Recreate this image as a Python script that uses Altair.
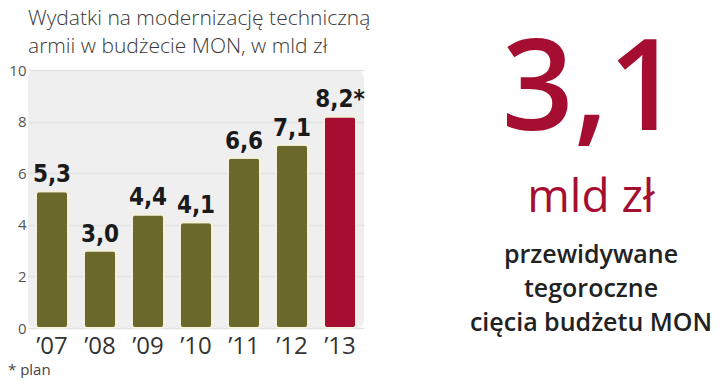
import altair as alt
import pandas as pd

years = ["’07", "’08", "’09", "’10", "’11", "’12", "’13"]
values = [5.3, 3.0, 4.4, 4.1, 6.6, 7.1, 8.2]
marks = ["", "", "", "", "", "", "*"]
planned = [False, False, False, False, False, False, True]

title_lines = ["Wydatki na modernizację techniczną", "armii w budżecie MON, w mld zł"]
footnote = "* plan"
big_value = "3,1"
big_unit = "mld zł"
caption_lines = ["przewidywane", "tegoroczne", "cięcia budżetu MON"]

df = pd.DataFrame({
    "year": years,
    "value": values,
    "label": [f"{v:.1f}".replace(".", ",") + m for v, m in zip(values, marks)],
    "planned": planned,
})

W, H = 336, 258

x = alt.X("year:N", sort=years, title=None,
          scale=alt.Scale(paddingInner=0, paddingOuter=0),
          axis=alt.Axis(labelAngle=0, labelFontSize=24, labelColor="#333333",
                        labelFont="Open Sans", labelPadding=6, ticks=False,
                        domain=False, grid=False))
y = alt.Y("value:Q", title=None,
          scale=alt.Scale(domain=[0, 10], nice=False),
          axis=alt.Axis(values=[0, 2, 4, 6, 8, 10], labelFontSize=15,
                        labelColor="#555555", labelFont="Open Sans",
                        ticks=False, domain=False, labelPadding=2,
                        gridColor="#e3e3e3", gridWidth=1.5))

base = alt.Chart(df)

bars = base.mark_bar(size=32, cornerRadius=3, stroke="#f4f1dc", strokeWidth=2).encode(
    x=x, y=y,
    color=alt.condition("datum.planned", alt.value("#a50e30"), alt.value("#6a692b")),
)

labels = base.mark_text(baseline="alphabetic", dy=-9, fontSize=24, fontWeight="bold",
                        font="DejaVu Sans Condensed, Liberation Sans Narrow, Roboto",
                        color="#1a1a1a").encode(x=x, y=y, text="label:N")

def txt(s, xv, yv, size, color, align="left", weight="normal", font="Open Sans"):
    return alt.Chart(pd.DataFrame({"t": [s]})).mark_text(
        align=align, baseline="alphabetic", fontSize=size, color=color,
        fontWeight=weight, font=font
    ).encode(x=alt.value(xv), y=alt.value(yv), text="t:N")

extras = [
    txt(title_lines[0], 0, -45, 21, "#3a3a3a", weight=300),
    txt(title_lines[1], 0, -17, 21, "#3a3a3a", weight=300),
    txt(footnote, -20, 305, 15, "#444444"),
    txt(big_value, 563, 60, 126, "#a50e30", align="center", weight=600),
    txt(big_unit, 563, 142, 46, "#a50e30", align="center"),
    txt(caption_lines[0], 563, 193, 25, "#222222", align="center", weight=600),
    txt(caption_lines[1], 563, 227, 25, "#222222", align="center", weight=600),
    txt(caption_lines[2], 563, 261, 25, "#222222", align="center", weight=600),
]

chart = alt.layer(bars, labels, *extras).properties(
    width=W, height=H,
    autosize=alt.AutoSizeParams(type="none"),
    padding={"left": 20, "top": 62, "right": 348, "bottom": 50},
    background="white",
).configure_view(fill="#efefef", stroke=None, cornerRadius=8)

chart.save("out.html", embed_options={"renderer": "svg", "actions": False})
